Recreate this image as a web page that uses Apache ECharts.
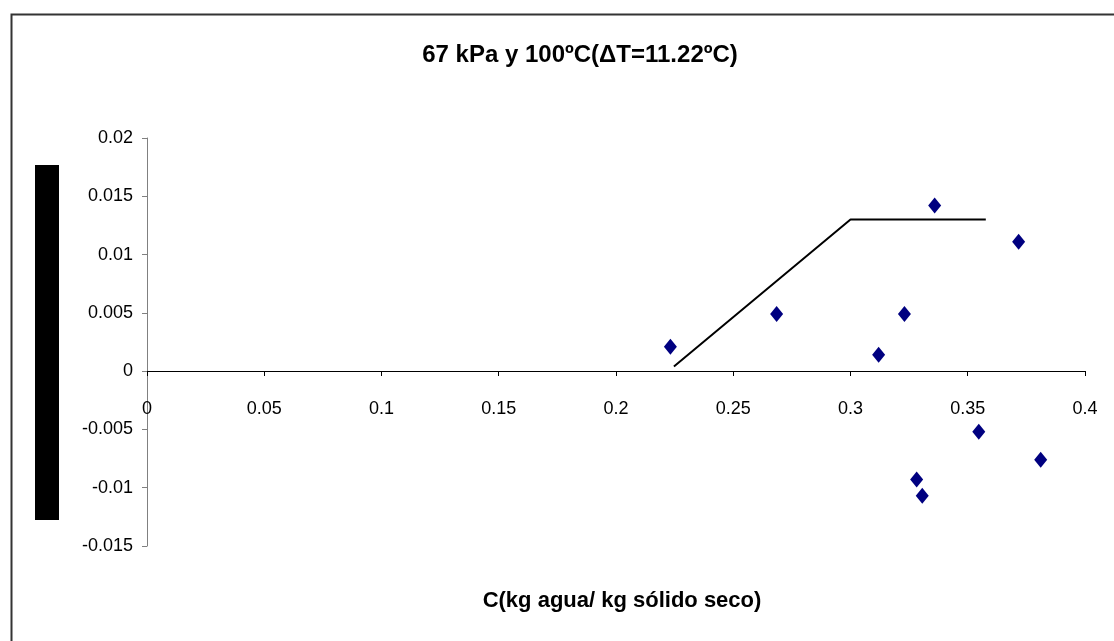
<!DOCTYPE html>
<html>
<head>
<meta charset="utf-8">
<script src="https://cdn.jsdelivr.net/npm/echarts@6/dist/echarts.min.js"></script>
<style>html,body{margin:0;padding:0;background:#fff}#c{width:1114px;height:641px}</style>
</head>
<body>
<div id="c"></div>
<script>
var titleText = "67 kPa y 100ºC(ΔT=11.22ºC)";
var xAxisName = "C(kg agua/ kg sólido seco)";
var pointsX = [0.2232, 0.2685, 0.3120, 0.3230, 0.3359, 0.3717, 0.3547, 0.3811, 0.3282, 0.3306];
var pointsY = [0.0021, 0.0049, 0.0014, 0.0049, 0.0142, 0.0111, -0.0052, -0.0076, -0.0093, -0.0107];
var lineX = [0.2247, 0.3, 0.3577];
var lineY = [0.0004, 0.013, 0.013];
var xMin = 0, xMax = 0.4, xStep = 0.05;
var yMin = -0.015, yMax = 0.02, yStep = 0.005;

var font = "'Liberation Sans', Arial, sans-serif";
function fmt(v){ return String(parseFloat(v.toFixed(4))); }

var chart = echarts.init(document.getElementById('c'), null, {renderer:'canvas'});
chart.setOption({
  backgroundColor: '#fff',
  animation: false,
  title: [
    {
      text: titleText, left: 575, top: 38, textAlign: 'center',
      textStyle: {fontFamily: font, fontSize: 24, fontWeight: 'bold', color: '#000'}
    },
    {
      text: xAxisName, left: 617, top: 585, textAlign: 'center',
      textStyle: {fontFamily: font, fontSize: 22, fontWeight: 'bold', color: '#000'}
    }
  ],
  graphic: [
    {type:'rect', left: 9, top: 12, shape:{width: 1200, height: 700}, style:{fill:'none', stroke:'#333', lineWidth:2}, z: 0},
    {type:'rect', left: 35, top: 165, shape:{width: 24, height: 355}, style:{fill:'#000'}, z: 10}
  ],
  grid: {left: 147, right: 29, top: 138, bottom: 95, containLabel: false, outerBoundsMode: 'none'},
  xAxis: {
    type: 'value', min: xMin, max: xMax, interval: xStep,
    position: 'bottom', offset: -175,
    axisLine: {onZero: false, lineStyle: {color: '#000', width: 1}},
    axisTick: {show: true, inside: false, length: 5, lineStyle: {color: '#000'}},
    axisLabel: {fontFamily: font, fontSize: 18, color: '#000', margin: 29, formatter: fmt},
    splitLine: {show: false}
  },
  yAxis: {
    type: 'value', min: yMin, max: yMax, interval: yStep,
    axisLine: {show: true, onZero: false, lineStyle: {color: '#808080', width: 1}},
    axisTick: {show: true, length: 5, lineStyle: {color: '#808080'}},
    axisLabel: {fontFamily: font, fontSize: 18, color: '#000', margin: 14, formatter: fmt},
    splitLine: {show: false}
  },
  series: [
    {
      type: 'line', data: lineX.map(function(x,i){return [x, lineY[i]];}),
      symbol: 'none', lineStyle: {color: '#000', width: 2}, z: 3
    },
    {
      type: 'scatter', data: pointsX.map(function(x,i){return [x, pointsY[i]];}),
      symbol: 'diamond', symbolSize: [13, 16], itemStyle: {color: '#000080', opacity: 1}, z: 4
    }
  ]
});
</script>
</body>
</html>
